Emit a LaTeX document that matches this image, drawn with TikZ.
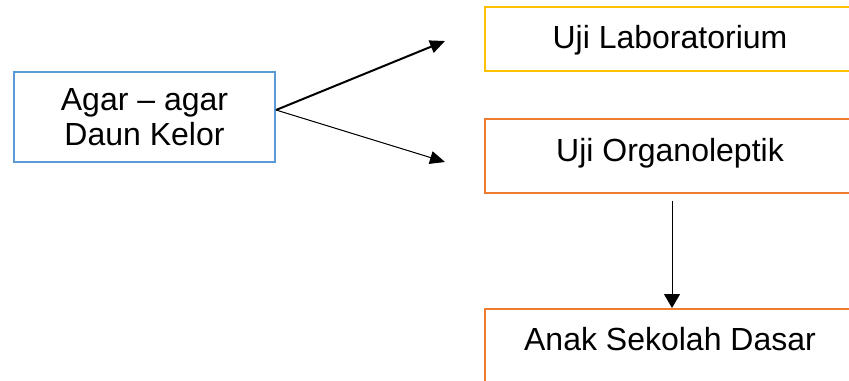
\documentclass[tikz,border=0pt]{standalone}
\usepackage{fontspec}
\setmainfont{Liberation Sans}
\usetikzlibrary{arrows.meta}

\definecolor{kotakbiru}{RGB}{91,155,213}
\definecolor{kotakkuning}{RGB}{255,192,0}
\definecolor{kotakoranye}{RGB}{237,125,49}

\tikzstyle{block} = [rectangle, line width=1pt, text centered, font=\fontsize{16}{17.5}\selectfont]
\tikzstyle{bahan} = [block, draw=kotakbiru, minimum width=130.5pt, minimum height=45pt, align=center]
\tikzstyle{uji} = [block, minimum width=185pt, minimum height=32pt, text height=11.5pt]

\begin{document}
\begin{tikzpicture}[x=0.5pt,y=-0.5pt]
	\clip (0,0) rectangle (849,380);
	\node (agar)   [bahan] at (144.5,117) {Agar -- agar\\Daun Kelor};
	\node (labor)  [uji, draw=kotakkuning, text depth=2pt] at (670,39) {Uji Laboratorium};
	\node (organo) [uji, draw=kotakoranye, minimum height=37pt, text depth=6pt] at (670,156) {Uji Organoleptik};
	\node (anak)   [uji, draw=kotakoranye, minimum height=37pt, text depth=7pt] at (670,346) {Anak Sekolah Dasar};
	\coordinate (kelabor)  at (445,41);
	\coordinate (keorgano) at (445,162);

	\draw[->,>={Triangle[length=7.5pt,width=6.5pt]},line width=1pt] ([yshift=3.5pt]agar.east) -- (kelabor);
	\draw[->,>={Triangle[length=7.5pt,width=6.5pt]},line width=0.5pt] ([yshift=3.5pt]agar.east) -- (keorgano);
	\draw[->,>={Triangle[length=7pt,width=8pt]},line width=0.5pt,shorten <=3.5pt] ([xshift=1pt]organo.south) -- ([xshift=1pt]anak.north);
\end{tikzpicture}
\end{document}
